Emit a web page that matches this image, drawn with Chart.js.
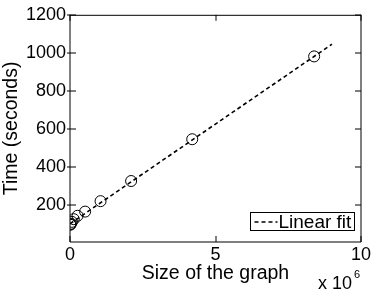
<!DOCTYPE html>
<html>
<head>
<meta charset="utf-8">
<script src="https://cdn.jsdelivr.net/npm/chart.js@4/dist/chart.umd.min.js"></script>
<style>
  html, body { margin: 0; padding: 0; background: #fff; }
  #wrap { width: 374px; height: 290px; }
</style>
</head>
<body>
<div id="wrap"><canvas id="c" width="374" height="290"></canvas></div>
<script>
// graph size, in units of 10^6
const graphSize = [0.008, 0.016, 0.033, 0.066, 0.13, 0.26, 0.52, 1.05, 2.1, 4.2, 8.39];
// measured running time (seconds)
const runTime = [95, 97, 100, 110, 124, 142, 164, 219, 325, 545, 981];

// linear fit end points
const fitX = [0, 9.0];
const fitY = [100, 1045];

const xTicks = [0, 5, 10];
const yTicks = [200, 400, 600, 800, 1000, 1200];

const FONT = "'Liberation Sans', Arial, Helvetica, sans-serif";

// matlab style box, inward ticks, legend and exponent label
const matlabFrame = {
  id: 'matlabFrame',
  afterDatasetsDraw(chart) {
    const { ctx, chartArea: a } = chart;
    const xs = chart.scales.x, ys = chart.scales.y;
    ctx.save();
    ctx.strokeStyle = '#000';
    ctx.lineWidth = 1;
    ctx.beginPath();
    ctx.moveTo(a.left, a.top + 0.5); ctx.lineTo(a.right, a.top + 0.5);
    ctx.moveTo(a.left, a.bottom); ctx.lineTo(a.right, a.bottom);
    ctx.moveTo(a.left, a.top); ctx.lineTo(a.left, a.bottom);
    ctx.moveTo(a.right, a.top); ctx.lineTo(a.right, a.bottom);
    const tl = 6;
    xs.ticks.forEach(t => {
      const px = Math.round(xs.getPixelForValue(t.value));
      ctx.moveTo(px, a.bottom); ctx.lineTo(px, a.bottom - tl);
      ctx.moveTo(px, a.top); ctx.lineTo(px, a.top + tl);
    });
    ys.ticks.forEach(t => {
      const py = Math.round(ys.getPixelForValue(t.value));
      ctx.moveTo(a.left - 3, py); ctx.lineTo(a.left + tl, py);
      ctx.moveTo(a.right, py); ctx.lineTo(a.right - tl, py);
    });
    ctx.stroke();
    ctx.restore();
  },
  afterDraw(chart) {
    const { ctx, chartArea: a } = chart;
    const fit = chart.data.datasets[1];
    ctx.save();
    // legend box
    const bx = a.right - 110.5, by = a.bottom - 29.5, bw = 104, bh = 18;
    ctx.fillStyle = '#fff';
    ctx.fillRect(bx, by, bw, bh);
    ctx.strokeStyle = '#000';
    ctx.lineWidth = 1;
    ctx.strokeRect(bx, by, bw, bh);
    const ly = by + bh / 2 + 0.5;
    ctx.setLineDash(fit.borderDash);
    ctx.lineWidth = fit.borderWidth;
    ctx.strokeStyle = fit.borderColor;
    ctx.beginPath();
    ctx.moveTo(bx + 4, ly); ctx.lineTo(bx + 27, ly);
    ctx.stroke();
    ctx.setLineDash([]);
    ctx.fillStyle = '#000';
    ctx.font = '19px ' + FONT;
    ctx.textBaseline = 'middle';
    ctx.textAlign = 'left';
    ctx.fillText(fit.label, bx + 28, ly + 1);
    // exponent of x axis
    ctx.textBaseline = 'alphabetic';
    ctx.font = '18px ' + FONT;
    ctx.fillText('x 10', 318, 289);
    ctx.font = '11px ' + FONT;
    ctx.fillText('6', 354, 278);
    ctx.restore();
  }
};

new Chart(document.getElementById('c'), {
  type: 'scatter',
  data: {
    datasets: [
      {
        label: 'Data',
        data: graphSize.map((x, i) => ({ x: x, y: runTime[i] })),
        pointStyle: 'circle',
        pointRadius: 5.5,
        pointHoverRadius: 5.5,
        pointBorderWidth: 1,
        pointBorderColor: '#000',
        pointBackgroundColor: 'rgba(0,0,0,0)',
        showLine: false,
        order: 1
      },
      {
        label: 'Linear fit',
        data: fitX.map((x, i) => ({ x: x, y: fitY[i] })),
        showLine: true,
        borderColor: '#000',
        borderWidth: 1.6,
        borderDash: [4, 3],
        pointRadius: 0,
        order: 2
      }
    ]
  },
  options: {
    responsive: false,
    animation: false,
    events: [],
    layout: { padding: { top: 13, right: 13, left: 0, bottom: 0 } },
    plugins: {
      legend: { display: false },
      tooltip: { enabled: false }
    },
    scales: {
      x: {
        type: 'linear',
        min: 0,
        max: 10,
        afterBuildTicks: s => { s.ticks = xTicks.map(v => ({ value: v })); },
        afterFit: s => { s.height = 48; },
        grid: { display: false, drawTicks: false },
        border: { display: false },
        ticks: {
          color: '#000', padding: 2, maxRotation: 0,
          font: { family: FONT, size: 18 },
          callback: v => String(v)
        },
        title: {
          display: true,
          text: 'Size of the graph',
          color: '#000',
          padding: { top: 0, bottom: 5 },
          font: { family: FONT, size: 19.5 }
        }
      },
      y: {
        min: 4,
        max: 1200,
        afterBuildTicks: s => { s.ticks = yTicks.map(v => ({ value: v })); },
        afterFit: s => { s.width = 70; },
        grid: { display: false, drawTicks: false },
        border: { display: false },
        ticks: {
          color: '#000', padding: 4,
          font: { family: FONT, size: 18 },
          callback: v => String(v)
        },
        title: {
          display: true,
          text: 'Time (seconds)',
          color: '#000',
          padding: { top: 0, bottom: 0 },
          font: { family: FONT, size: 19.5 }
        }
      }
    }
  },
  plugins: [matlabFrame]
});
</script>
</body>
</html>
